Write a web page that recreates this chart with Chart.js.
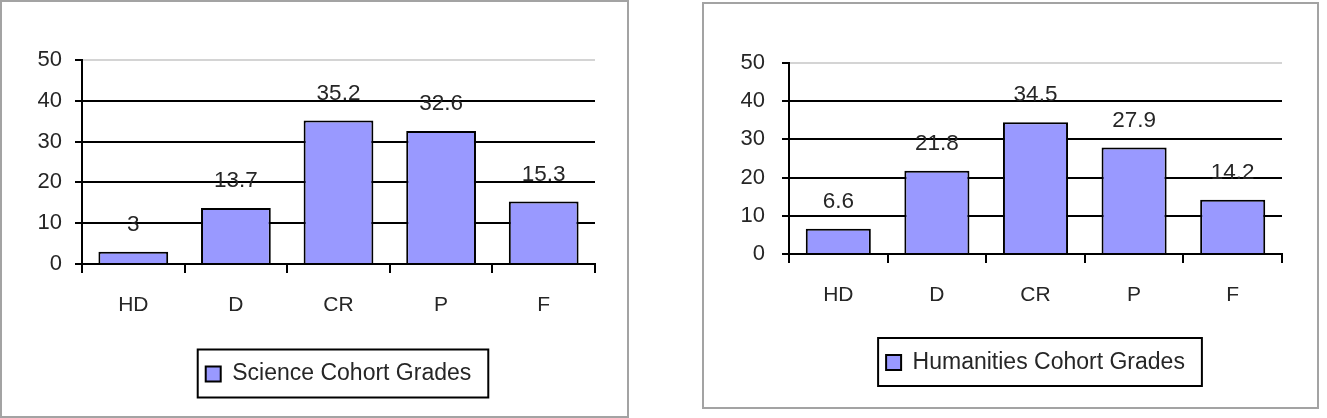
<!DOCTYPE html>
<html>
<head>
<meta charset="utf-8">
<script src="https://cdn.jsdelivr.net/npm/chart.js@4.4.0/dist/chart.umd.min.js"></script>
<style>
  body { margin: 0; background: #fff; width: 1327px; height: 418px; overflow: hidden; position: relative; }
  .frame { position: absolute; box-sizing: border-box; border: 2px solid #a3a3a3; }
  canvas { position: absolute; }
</style>
</head>
<body>
<div class="frame" style="left:0;top:0;width:629px;height:418px"></div>
<div class="frame" style="left:702px;top:2px;width:617px;height:407px"></div>
<canvas id="scienceChart" width="630" height="418" style="left:0;top:0"></canvas>
<canvas id="humanitiesChart" width="637" height="418" style="left:690px;top:0"></canvas>
<script>
// categorias e valores (percentagens por nota)
var grades = ['HD', 'D', 'CR', 'P', 'F']
var scienceGrades = [3, 13.7, 35.2, 32.6, 15.3]
var humanitiesGrades = [6.6, 21.8, 34.5, 27.9, 14.2]
var yMin = 0
var yMax = 50
var yStep = 10

var textColor = '#262626'
Chart.defaults.font.family = '"Liberation Sans", Arial, sans-serif'
Chart.defaults.color = textColor

/** plugin: valores por cima das barras e caixa a volta da legenda */
var gradeLabels = {
  id: 'gradeLabels',
  afterLayout(chart){
    // centrar a legenda por baixo da area do grafico
    var a = chart.chartArea
    chart.legend.left = a.left
    chart.legend.right = a.right
  },
  afterDatasetsDraw(chart){
    var ctx = chart.ctx
    var meta = chart.getDatasetMeta(0)
    var values = chart.data.datasets[0].data
    ctx.save()
    ctx.font = '22.5px "Liberation Sans"'
    ctx.fillStyle = textColor
    ctx.textAlign = 'center'
    ctx.textBaseline = 'middle'
    meta.data.forEach(function(bar, i){
      ctx.fillText(String(values[i]), bar.x, bar.y - 27)
    })
    ctx.restore()
  },
  afterDraw(chart){
    var hb = chart.legend.legendHitBoxes[0]
    if(!hb) return
    var ctx = chart.ctx
    ctx.save()
    ctx.strokeStyle = '#000'
    ctx.lineWidth = 2
    ctx.strokeRect(hb.left - 8, hb.top - 13, hb.width + 25, hb.height + 25)
    ctx.restore()
  }
}

function buildChart(canvasId, seriesName, values, cfg){
  return new Chart(canvasId, {
    type: 'bar',
    data: {
      labels: grades,
      datasets: [{
        label: seriesName,
        data: values,
        backgroundColor: '#9999ff',
        borderColor: '#000',
        borderWidth: 2,
        categoryPercentage: 1,
        barPercentage: cfg.barPct
      }]
    },
    options: {
      responsive: false,
      animation: false,
      layout: { padding: cfg.padding },
      plugins: {
        legend: {
          position: 'bottom',
          labels: { boxWidth: 15, boxHeight: 15, padding: 10, font: { size: 23 }, color: textColor }
        },
        tooltip: { enabled: false }
      },
      scales: {
        x: {
          grid: { drawOnChartArea: false, color: '#000', lineWidth: 2, tickLength: 9 },
          border: { color: '#000', width: 2 },
          ticks: { font: { size: 21 }, padding: 20 },
          afterFit(scale){ scale.height = cfg.xHeight }
        },
        y: {
          min: yMin,
          max: yMax,
          ticks: { stepSize: yStep, font: { size: 22 }, padding: cfg.tickPad },
          grid: {
            color: function(c){ return c.tick && c.tick.value === yMax ? '#d4d4d4' : '#000' },
            tickColor: '#000',
            lineWidth: 2,
            tickLength: 7
          },
          border: { color: '#000', width: 2 },
          afterFit(scale){ scale.width = cfg.yWidth }
        }
      }
    },
    plugins: [gradeLabels]
  })
}

buildChart('scienceChart', 'Science Cohort Grades', scienceGrades, {
  padding: { left: 0, right: 35, top: 60, bottom: 22.5 },
  yWidth: 82, xHeight: 88.5, tickPad: 13, barPct: 0.68
})

buildChart('humanitiesChart', 'Humanities Cohort Grades', humanitiesGrades, {
  padding: { left: 0, right: 45, top: 63, bottom: 34 },
  yWidth: 99, xHeight: 87, tickPad: 17, barPct: 0.66
})
</script>
</body>
</html>
